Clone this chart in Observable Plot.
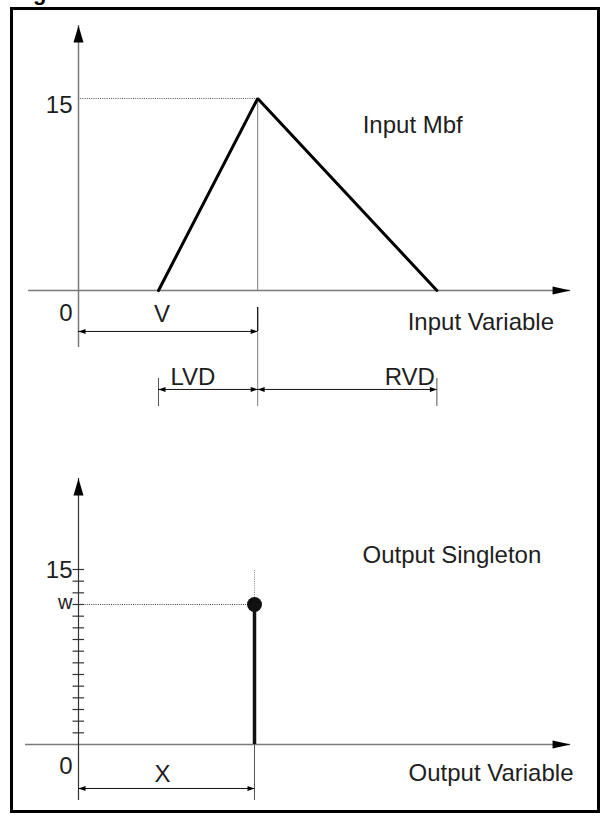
<!DOCTYPE html>
<html>
<head>
<meta charset="utf-8">
<script src="https://cdn.jsdelivr.net/npm/d3@7"></script>
<script src="https://cdn.jsdelivr.net/npm/@observablehq/plot@0.6"></script>
<style>
  body { margin: 0; background: #fff; }
  #wrap { position: relative; width: 605px; height: 816px; overflow: hidden; background: #fff; }
  #frame { position: absolute; left: 10px; top: 7px; width: 584px; height: 800px; border: 3px solid #000; }
  #top, #bottom { position: absolute; left: 0; }
  #top { top: 0; }
  #bottom { top: 420px; }
  svg { overflow: visible; }
</style>
</head>
<body>
<div id="wrap"><div id="frame"></div><div id="top"></div><div id="bottom"></div></div>
<script>
// ---- Input membership function (triangle) ----
const V = 14;        // centre of the input Mbf
const LVD = 7.75;    // left value distance
const RVD = 14;      // right value distance
const peak = 15;     // height of the Mbf
const mbfX = [V - LVD, V, V + RVD];
const mbfY = [0, peak, 0];

// ---- Output singleton ----
const X = 13.75;     // singleton position
const w = 12;        // singleton weight
const outMax = 15;
const outTicks = [1, 2, 3, 4, 5, 6, 7, 8, 9, 10, 11, 12, 13, 14, 15];

// ---- Labels ----
const topLabels = { max: "15", zero: "0", v: "V", mbf: "Input Mbf", axis: "Input Variable", lvd: "LVD", rvd: "RVD" };
const botLabels = { max: "15", w: "w", zero: "0", x: "X", single: "Output Singleton", axis: "Output Variable" };
const title = "Figure";

// ---- Axis / annotation extents (data units) ----
const topAxis = { xFrom: -3.9, xTo: 38.44, yFrom: -4.45, yTo: 20.7 };
const topDim = { extTop: -1.33, v: -3.2, lvdExtTop: -6.875, lvd: -7.73, extBottom: -9.06 };
const botAxis = { xFrom: -4.14, xTo: 38.44, yFrom: -4.8, yTo: 22.8 };
const botDim = { x: -3.77, extBottom: -4.8 };

const FONT = "'Liberation Sans', Arial, Helvetica, sans-serif";
const AX = "#7a7a7a";
const TXT = "#1e1e1e";

// arrowhead symbols (tip at origin)
const arrowUp = { draw(c) { c.moveTo(0, 0); c.lineTo(5, 17); c.lineTo(-5, 17); c.closePath(); } };
const arrowRight = { draw(c) { c.moveTo(0, 0); c.lineTo(-18, 4); c.lineTo(-18, -4); c.closePath(); } };
const tipL = { draw(c) { c.moveTo(0, 0); c.lineTo(7, 2.5); c.lineTo(7, -2.5); c.closePath(); } };
const tipR = { draw(c) { c.moveTo(0, 0); c.lineTo(-7, 2.5); c.lineTo(-7, -2.5); c.closePath(); } };

const head = (pts, symbol) => Plot.dot(pts, { x: "x", y: "y", symbol: () => symbol, r: 4, fill: "#000", stroke: "none" });
const label = (t, x, y, o = {}) => Plot.text([t], {
  x: () => x, y: () => y, text: d => d, fontSize: 24, fill: TXT, lineAnchor: "bottom", ...o
});

// ================= TOP: Input Mbf =================
const mbf = mbfX.map((x, i) => ({ x, y: mbfY[i] }));
const topPlot = Plot.plot({
  width: 605, height: 420,
  marginTop: 0, marginRight: 0, marginBottom: 0, marginLeft: 0,
  style: { overflow: "visible", background: "transparent", fontFamily: FONT },
  x: { axis: null, domain: [0, 40], range: [78, 590] },
  y: { axis: null, domain: [0, 15], range: [290, 98] },
  symbol: { type: "identity" },
  marks: [
    Plot.text([title], { frameAnchor: "top-left", dx: 13, dy: -1, lineAnchor: "bottom", textAnchor: "start", fontWeight: "bold", fontSize: 22, fill: "#000" }),
    // axes
    Plot.ruleY([0], { x1: topAxis.xFrom, x2: topAxis.xTo, stroke: AX, strokeWidth: 1.5 }),
    Plot.ruleX([0], { y1: topAxis.yFrom, y2: topAxis.yTo, stroke: AX, strokeWidth: 1.5 }),
    head([{ x: 0, y: topAxis.yTo }], arrowUp),
    head([{ x: topAxis.xTo, y: 0 }], arrowRight),
    // guides
    Plot.ruleY([peak], { x1: 0, x2: V, stroke: "#555", strokeWidth: 1, strokeDasharray: "1,1.2" }),
    Plot.ruleX([V], { y1: 0, y2: peak, stroke: AX, strokeWidth: 1 }),
    Plot.ruleX([V], { y1: topDim.extTop, y2: topDim.v, stroke: "#111", strokeWidth: 1.3 }),
    Plot.ruleX([V], { y1: topDim.v, y2: topDim.extBottom, stroke: AX, strokeWidth: 1 }),
    Plot.ruleX([V - LVD, V + RVD], { y1: topDim.lvdExtTop, y2: topDim.extBottom, stroke: "#555", strokeWidth: 1 }),
    // dimension lines
    Plot.ruleY([topDim.v], { x1: 0, x2: V, stroke: "#111", strokeWidth: 1 }),
    Plot.ruleY([topDim.lvd], { x1: V - LVD, x2: V + RVD, stroke: "#111", strokeWidth: 1 }),
    head([{ x: 0, y: topDim.v }, { x: V - LVD, y: topDim.lvd }, { x: V, y: topDim.lvd }], tipL),
    head([{ x: V, y: topDim.v }, { x: V, y: topDim.lvd }, { x: V + RVD, y: topDim.lvd }], tipR),
    // membership function
    Plot.line(mbf, { x: "x", y: "y", stroke: "#000", strokeWidth: 3, strokeLinejoin: "miter" }),
    // labels
    label(topLabels.max, 0, peak, { textAnchor: "end", dx: -6, dy: 14.5 }),
    label(topLabels.zero, 0, 0, { textAnchor: "end", dx: -6, dy: 30.5 }),
    label(topLabels.v, V / 2, 0, { textAnchor: "middle", dx: -6, dy: 31 }),
    label(topLabels.mbf, V, peak, { textAnchor: "start", dx: 105, dy: 34 }),
    label(topLabels.axis, V, 0, { textAnchor: "start", dx: 150, dy: 39 }),
    label(topLabels.lvd, V - LVD, topDim.lvd, { textAnchor: "start", dx: 12, dy: -4 }),
    label(topLabels.rvd, V + RVD, topDim.lvd, { textAnchor: "end", dx: -2, dy: -4 })
  ]
});
document.getElementById("top").appendChild(topPlot);

// ================= BOTTOM: Output singleton =================
const botPlot = Plot.plot({
  width: 605, height: 396,
  marginTop: 0, marginRight: 0, marginBottom: 0, marginLeft: 0,
  style: { overflow: "visible", background: "transparent", fontFamily: FONT },
  x: { axis: null, domain: [0, 40], range: [78, 590] },
  y: { axis: null, domain: [0, 15], range: [324, 149] },
  marks: [
    // axes
    Plot.ruleY([0], { x1: botAxis.xFrom, x2: botAxis.xTo, stroke: AX, strokeWidth: 1.5 }),
    Plot.ruleX([0], { y1: botAxis.yFrom, y2: botAxis.yTo, stroke: "#333", strokeWidth: 1.2 }),
    head([{ x: 0, y: botAxis.yTo }], arrowUp),
    head([{ x: botAxis.xTo, y: 0 }], arrowRight),
    // y ticks
    Plot.ruleY(outTicks, { x1: 0, x2: 0, insetLeft: -5.5, insetRight: -6, stroke: "#333", strokeWidth: 1.2 }),
    // guides
    Plot.ruleY([w], { x1: 0, x2: X, stroke: "#444", strokeWidth: 1, strokeDasharray: "1,1.2" }),
    Plot.ruleX([X], { y1: w, y2: outMax, stroke: "#888", strokeWidth: 1, strokeDasharray: "1,1.2" }),
    Plot.ruleX([X], { y1: 0, y2: botDim.extBottom, stroke: "#555", strokeWidth: 1 }),
    // dimension line
    Plot.ruleY([botDim.x], { x1: 0, x2: X, stroke: "#111", strokeWidth: 1 }),
    head([{ x: 0, y: botDim.x }], tipL),
    head([{ x: X, y: botDim.x }], tipR),
    // singleton
    Plot.ruleX([X], { y1: 0, y2: w, stroke: "#111", strokeWidth: 3.5 }),
    Plot.dot([{ x: X, y: w }], { x: "x", y: "y", r: 7.5, fill: "#111", stroke: "none" }),
    // labels
    label(botLabels.max, 0, outMax, { textAnchor: "end", dx: -6, dy: 8 }),
    label(botLabels.w, 0, w, { textAnchor: "end", dx: -6, dy: 4, fontSize: 20 }),
    label(botLabels.zero, 0, 0, { textAnchor: "end", dx: -6, dy: 29 }),
    label(botLabels.x, X / 2, 0, { textAnchor: "middle", dx: -4, dy: 37 }),
    label(botLabels.single, X, outMax, { textAnchor: "start", dx: 108, dy: -7 }),
    label(botLabels.axis, X, 0, { textAnchor: "start", dx: 154, dy: 36 })
  ]
});
document.getElementById("bottom").appendChild(botPlot);
</script>
</body>
</html>
